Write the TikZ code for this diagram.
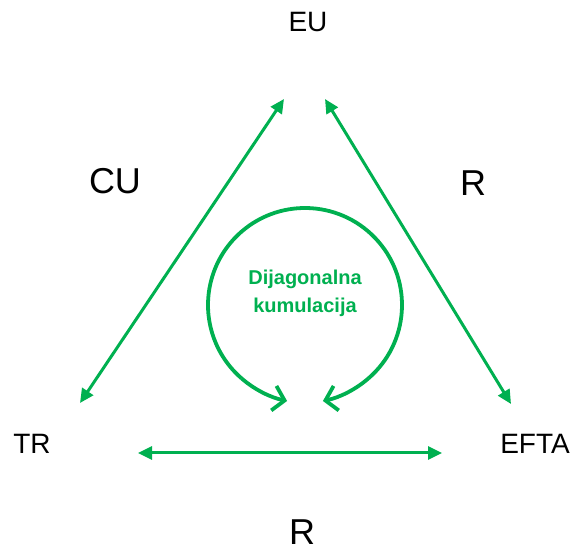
\documentclass[tikz,border=0pt]{standalone}
\usepackage{fontspec}
\setmainfont{Liberation Sans}
\usetikzlibrary{arrows.meta}
\definecolor{kgreen}{HTML}{00B050}

\begin{document}
\begin{tikzpicture}[x=1pt, y=1pt,
		country/.style={font=\fontsize{28}{34}\selectfont},
		zone/.style={font=\fontsize{36}{42}\selectfont},
		link/.style={{Triangle[length=14pt,width=13pt]}-{Triangle[length=14pt,width=13pt]}, kgreen, line width=3pt},
		loopbarb/.style={-{Straight Barb[length=11pt,width=25pt]}, kgreen, line width=3.8pt}]
		\useasboundingbox (0, 0) rectangle (575, 551);
		% countries
		\node[country] (eu) at (308, 529) {EU};
		\node[country] (tr) at (32, 107) {TR};
		\node[country] (efta) at (535, 107) {EFTA};
		% kinds of agreement
		\node[zone] (cu) at (115, 370) {CU};
		\node[zone] (rright) at (473, 368) {R};
		\node[zone] (rbottom) at (302, 19) {R};
		% arrow ends
		\coordinate (tr-up) at (80, 148);
		\coordinate (eu-left) at (284, 452);
		\coordinate (eu-right) at (325, 452);
		\coordinate (efta-up) at (511, 147);
		\coordinate (tr-right) at (138, 98);
		\coordinate (efta-left) at (442, 98);
		\draw[link] (tr-up) -- (eu-left);
		\draw[link] (eu-right) -- (efta-up);
		\draw[link] (tr-right) -- (efta-left);
		% cumulation circle
		\node[align=center, text=kgreen, font=\bfseries\fontsize{20}{28}\selectfont] (diag) at (305, 258) {Dijagonalna\\kumulacija};
		\draw[kgreen, line width=3.8pt] (305, 246) ++(-49:97) arc[start angle=-49, end angle=229, radius=97];
		\draw[loopbarb] (305, 246) ++(229:97) arc[start angle=229, end angle=258, radius=102];
		\draw[loopbarb] (305, 246) ++(-49:97) arc[start angle=-49, end angle=-78, radius=102];
	\end{tikzpicture}
\end{document}
